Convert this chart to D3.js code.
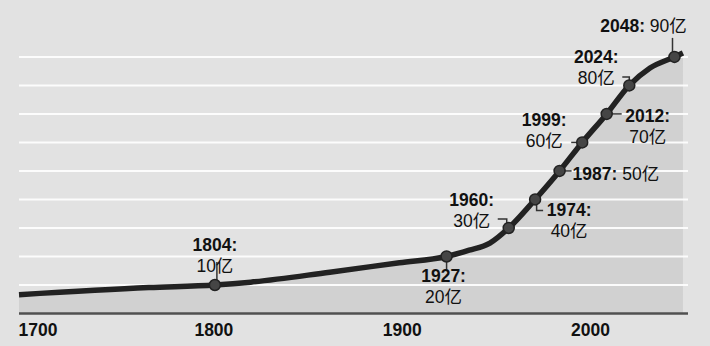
<!DOCTYPE html>
<html>
<head>
<meta charset="utf-8">
<title>World population</title>
<script src="https://cdn.jsdelivr.net/npm/d3@7"></script>
<style>
  html, body { margin: 0; padding: 0; background: #e2e2e2; }
  svg { display: block; }
  text { font-family: "Liberation Sans", "Noto Sans CJK SC", sans-serif; fill: #111; }
</style>
</head>
<body>
<svg id="chart" width="710" height="346"></svg>
<script>
// Population curve, in billions
var curveYears = [1700, 1769, 1804, 1823, 1865, 1902, 1927, 1939, 1950, 1960, 1974, 1987, 1999, 2012, 2024, 2035, 2048, 2052.5];
var curveValues = [0.66, 0.91, 1.0, 1.1, 1.45, 1.78, 2.0, 2.22, 2.47, 3.0, 4.0, 5.0, 6.0, 7.0, 8.0, 8.61, 9.0, 9.14];

// Milestones: each extra billion
var milestoneYears = [1804, 1927, 1960, 1974, 1987, 1999, 2012, 2024, 2048];
var milestoneValues = [1, 2, 3, 4, 5, 6, 7, 8, 9];
var milestoneLabels = ['10亿', '20亿', '30亿', '40亿', '50亿', '60亿', '70亿', '80亿', '90亿'];

// Axis ticks and gridlines
var axisTicks = [1700, 1800, 1900, 2000];
var gridValues = [1, 2, 3, 4, 5, 6, 7, 8, 9];

// Where each label sits, relative to its dot
var labelLayout = {
  1804: { dx: 0, dy: -34, leader: [[2, -23], [2, -5]] },
  1927: { dx: -3, dy: 26, leader: [[0, 5], [0, 13]] },
  1960: { dx: -37, dy: -22, leader: [[-11, -9], [-2, -9], [-2, -4]] },
  1974: { dx: 34, dy: 17, leader: [[1.5, 5], [1.5, 11], [8, 11]] },
  1987: { dx: 13, dy: 9, single: true, anchor: 'start', leader: [[4, 0], [12, 0]] },
  1999: { dx: -38, dy: -16, leader: [[-11, 0], [-4, 0]] },
  2012: { dx: 41, dy: 8, leader: [[5, 0], [15, 0]] },
  2024: { dx: -33, dy: -22, leader: [[-7, -8.5], [0, -8.5], [0, -4]] },
  2048: { dx: -31, dy: -25, single: true, anchor: 'middle', leader: [[-2, -19], [-2, -5]] }
};

var svg = d3.select('#chart');

// Scales
var x = d3.scaleLinear().domain([1700, 2048]).range([19, 674.5]);
var y = d3.scaleLinear().domain([0, 9]).range([313.5, 56.9]);
var right = 688;

// Background
svg.append('rect')
  .attr('width', 710)
  .attr('height', 346)
  .attr('fill', '#e2e2e2');

var points = curveYears.map(function(d, i) {
  return { year: d, value: curveValues[i] };
});

// Area under the curve
var area = d3.area()
  .x(function(d) { return x(d.year); })
  .y0(y(0))
  .y1(function(d) { return y(d.value); })
  .curve(d3.curveMonotoneX);

svg.append('path')
  .datum(points)
  .attr('d', area)
  .attr('fill', '#d1d1d1');

// Gridlines
svg.append('g')
  .selectAll('line')
  .data(gridValues)
  .enter().append('line')
  .attr('x1', x(1700))
  .attr('x2', right)
  .attr('y1', function(d) { return y(d); })
  .attr('y2', function(d) { return y(d); })
  .attr('stroke', '#fff')
  .attr('stroke-opacity', 0.9)
  .attr('stroke-width', 2);

// Baseline
svg.append('line')
  .attr('x1', x(1700))
  .attr('x2', right)
  .attr('y1', y(0))
  .attr('y2', y(0))
  .attr('stroke', '#505050')
  .attr('stroke-width', 2.5);

// Axis labels
var axis = d3.axisBottom(x)
  .tickValues(axisTicks)
  .tickSize(0)
  .tickPadding(10)
  .tickFormat(d3.format('d'));

var axisG = svg.append('g')
  .attr('transform', 'translate(0,' + y(0) + ')')
  .call(axis);

axisG.select('.domain').remove();
axisG.selectAll('text')
  .attr('dx', 6)
  .attr('y', 22)
  .attr('dy', null)
  .style('font-size', '17.5px')
  .style('font-weight', 'bold')
  .style('font-family', '"Liberation Sans", sans-serif')
  .attr('fill', '#111');

// First label starts at the left edge
axisG.selectAll('text')
  .filter(function(d) { return d === 1700; })
  .attr('text-anchor', 'start')
  .attr('dx', -1);

// Population line
var line = d3.line()
  .x(function(d) { return x(d.year); })
  .y(function(d) { return y(d.value); })
  .curve(d3.curveMonotoneX);

var milestones = milestoneYears.map(function(d, i) {
  return { year: d, value: milestoneValues[i], label: milestoneLabels[i] };
});

// Leader lines
svg.append('g')
  .selectAll('path')
  .data(milestones)
  .enter().append('path')
  .attr('d', function(d) {
    var cx = x(d.year), cy = y(d.value);
    return d3.line()(labelLayout[d.year].leader.map(function(p) {
      return [cx + p[0], cy + p[1]];
    }));
  })
  .attr('fill', 'none')
  .attr('stroke', '#333')
  .attr('stroke-width', 1.5);

svg.append('path')
  .datum(points)
  .attr('d', line)
  .attr('fill', 'none')
  .attr('stroke', '#222')
  .attr('stroke-width', 5.5);

// Dots
svg.append('g')
  .selectAll('circle')
  .data(milestones)
  .enter().append('circle')
  .attr('cx', function(d) { return x(d.year); })
  .attr('cy', function(d) { return y(d.value); })
  .attr('r', 5.5)
  .attr('fill', '#454545')
  .attr('stroke', '#222')
  .attr('stroke-width', 1.5);

// Labels
var labels = svg.append('g')
  .selectAll('text')
  .data(milestones)
  .enter().append('text')
  .style('font-size', '17.5px')
  .attr('text-anchor', function(d) { return labelLayout[d.year].anchor || 'middle'; })
  .attr('x', function(d) { return x(d.year) + labelLayout[d.year].dx; })
  .attr('y', function(d) { return y(d.value) + labelLayout[d.year].dy; });

labels.each(function(d) {
  var t = d3.select(this);
  var lay = labelLayout[d.year];

  if (lay.single) {
    // One line: "2048: 90亿"
    t.append('tspan').style('font-weight', 'bold').text(d.year + ':');
    t.append('tspan').text(' ' + d.label);
  } else {
    // Two lines
    t.append('tspan').style('font-weight', 'bold').text(d.year + ':');
    t.append('tspan')
      .attr('x', x(d.year) + lay.dx)
      .attr('dy', 21)
      .text(d.label);
  }
});
</script>
</body>
</html>
